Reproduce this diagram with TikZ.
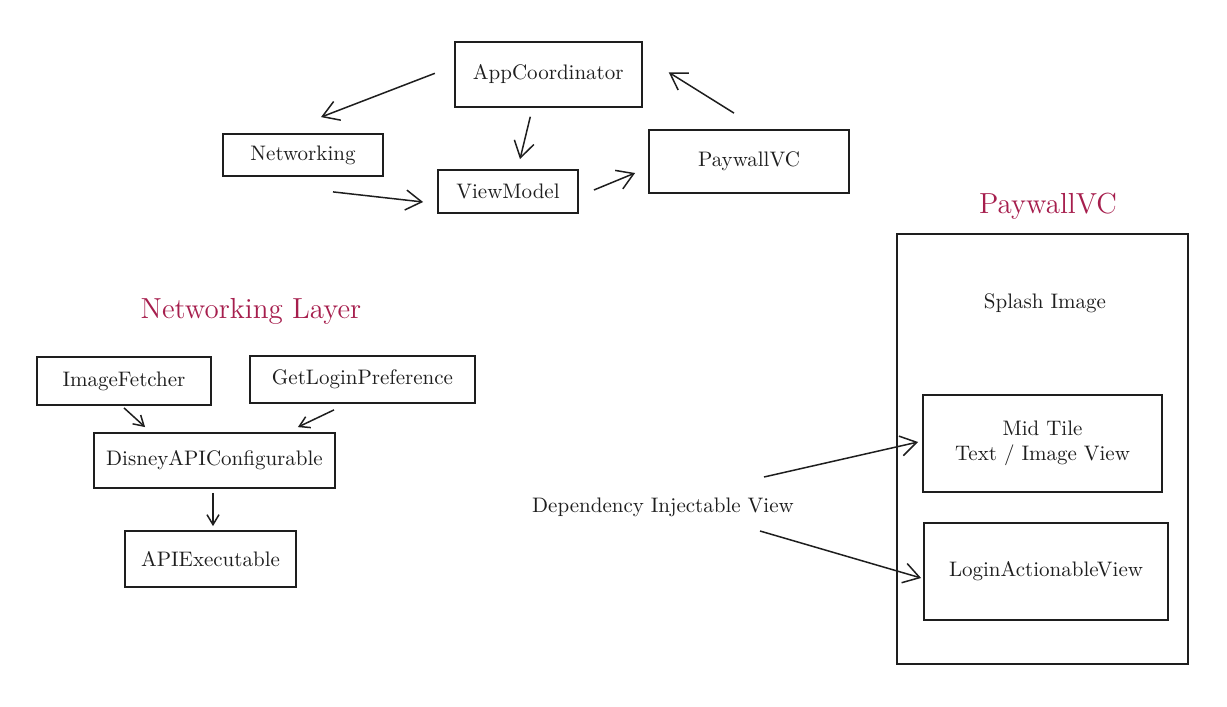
\documentclass[tikz,border=0pt]{standalone}
\usepackage{xcolor}
\usetikzlibrary{calc}
\usetikzlibrary{arrows.meta}
\definecolor{ink}{HTML}{1E1E1E}
\definecolor{inkred}{HTML}{A61E4D}

\begin{document}
\begin{tikzpicture}[x=0.5pt,y=-0.5pt,inner sep=0pt,
  box/.style={draw=ink,line width=0.9pt,text=ink,font=\fontsize{10.5}{12.5}\selectfont},
  label/.style={text=ink,font=\fontsize{10.5}{12.5}\selectfont},
  heading/.style={text=inkred,font=\fontsize{14.5}{17}\selectfont},
  arr/.style={draw=ink,line width=0.75pt,-{Straight Barb[length=8pt,width=10pt]}},
  smallarr/.style={draw=ink,line width=0.75pt,-{Straight Barb[length=5pt,width=6pt]}}]
\useasboundingbox (0,0) rectangle (1227,707);

% app flow
\node[box,minimum width=93.5pt,minimum height=32.5pt] (app) at (548.3,74.3) {AppCoordinator};
\node[box,minimum width=80pt,minimum height=21pt] (net) at (303,155) {Networking};
\node[box,minimum width=70pt,minimum height=21.5pt] (vm) at (508,191.5) {ViewModel};
\node[box,minimum width=100pt,minimum height=31.5pt] (pw) at (749,161.5) {PaywallVC};

\draw[arr] ($(app.west)+(-19,-1)$) -- ($(net.north)+(18,-16)$);
\draw[arr] ($(app.south)+(-18,9)$) -- ($(vm.north)+(12,-10)$);
\draw[arr] ($(net.south)+(30,15)$) -- ($(vm.west)+(-14,10.5)$);
\draw[arr] ($(vm.east)+(15,-1.5)$) -- ($(pw.west)+(-13,11.5)$);
\draw[arr] ($(pw.north)+(-15,-16)$) -- ($(app.east)+(26,-2)$);

% networking layer
\node[heading] (nettitle) at (251,311) {Networking Layer};
\node[box,minimum width=87pt,minimum height=24pt] (img) at (124,381) {ImageFetcher};
\node[box,minimum width=112.5pt,minimum height=23.5pt] (glp) at (362.5,379.5) {GetLoginPreference};
\node[box,minimum width=120.5pt,minimum height=27.5pt] (dac) at (214.5,460.5) {DisneyAPIConfigurable};
\node[box,minimum width=85.5pt,minimum height=28pt] (apiex) at (210.5,559) {APIExecutable};

\draw[smallarr] ($(img.south)+(0,2)$) -- ($(dac.north west)+(52,-5)$);
\draw[smallarr] ($(glp.south)+(-28.5,6)$) -- ($(dac.north east)+(-38,-5)$);
\draw[smallarr] ($(dac.south)+(-1.5,4)$) -- ($(apiex.north)+(2.5,-4)$);

% paywall screen
\node[heading] (pwtitle) at (1048,206) {PaywallVC};
\node[box,minimum width=145.5pt,minimum height=215pt] (panel) at (1042.5,449) {};
\node[label] (splash) at (1045,303) {Splash Image};
\node[box,minimum width=119.5pt,minimum height=48.5pt,align=center] (mid) at (1042.5,443.5) {Mid Tile\\Text / Image View};
\node[box,minimum width=122pt,minimum height=48.5pt] (login) at (1046,571.5) {LoginActionableView};
\node[label] (dep) at (663,507) {Dependency Injectable View};

\draw[arr] ($(dep.center)+(101,-30)$) -- ($(mid.west)+(-4,-1.5)$);
\draw[arr] ($(dep.center)+(97,24)$) -- ($(login.west)+(-2,6.5)$);
\end{tikzpicture}
\end{document}
